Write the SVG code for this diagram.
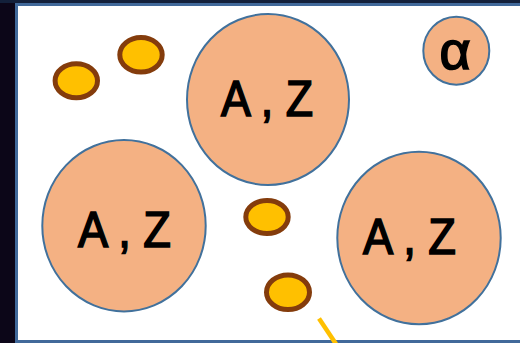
<svg xmlns="http://www.w3.org/2000/svg" width="520" height="343" viewBox="0 0 520 343">
<style>
.big{fill:#f4b183;stroke:#41719c;stroke-width:2}
.small{fill:#ffc000;stroke:#843c0c;stroke-width:5}
.lbl{font-family:"Liberation Sans",Arial,sans-serif;font-size:50px;fill:#000;stroke:#000;stroke-width:1.6;text-anchor:middle}
</style>
<rect x="0" y="0" width="520" height="343" fill="#0c0618"/>
<rect x="0" y="0" width="520" height="3" fill="#13203a"/>
<rect x="16.5" y="4.5" width="506" height="337" fill="#ffffff" stroke="#41699a" stroke-width="3"/>
<g id="nucleus1"><ellipse class="big" cx="268" cy="99.5" rx="81" ry="85.5"/><text class="lbl" x="267" y="115.5" textLength="92" lengthAdjust="spacingAndGlyphs">A , Z</text></g>
<g id="nucleus2"><ellipse class="big" cx="124" cy="225.7" rx="81.7" ry="85.7"/><text class="lbl" x="124.5" y="246.5" textLength="93" lengthAdjust="spacingAndGlyphs">A , Z</text></g>
<g id="nucleus3"><ellipse class="big" cx="419" cy="238" rx="81.7" ry="86.3"/><text class="lbl" x="409.5" y="254.2" textLength="93" lengthAdjust="spacingAndGlyphs">A , Z</text></g>
<g id="alpha"><ellipse class="big" cx="456.3" cy="50.7" rx="33" ry="34"/><text class="lbl" x="455" y="68.8" style="font-size:54px">α</text></g>
<g id="electron1"><ellipse class="small" cx="76.3" cy="80.7" rx="21.2" ry="17"/></g>
<g id="electron2"><ellipse class="small" cx="141" cy="54.8" rx="21.2" ry="17.3"/></g>
<g id="electron3"><ellipse class="small" cx="267" cy="217" rx="21.2" ry="16.5"/></g>
<g id="electron4"><ellipse class="small" cx="288" cy="292.3" rx="21.5" ry="17.3"/></g>
<g id="connectors"><line x1="319" y1="318.5" x2="336" y2="344" stroke="#ffc000" stroke-width="4.5"/></g>
</svg>
